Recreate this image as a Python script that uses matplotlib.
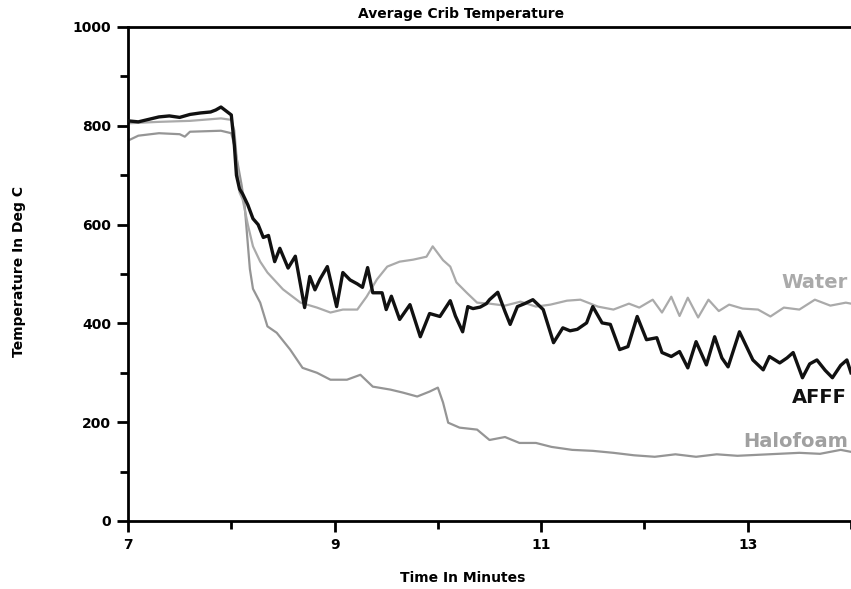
import matplotlib
matplotlib.use("Agg")
import matplotlib.pyplot as plt
from matplotlib.ticker import MultipleLocator

# ---- data ----
afff_t = [7.0, 7.1, 7.2, 7.3, 7.4, 7.5, 7.6, 7.7, 7.8, 7.85, 7.9, 7.95, 8.0, 8.03, 8.05,
          8.08, 8.11, 8.16, 8.21, 8.26, 8.31, 8.36, 8.42, 8.47, 8.55, 8.62, 8.71, 8.76,
          8.81, 8.86, 8.93, 9.02, 9.08, 9.15, 9.22, 9.27, 9.32, 9.37, 9.46, 9.5, 9.55,
          9.63, 9.73, 9.83, 9.92, 10.02, 10.12, 10.17, 10.24, 10.29, 10.34, 10.41, 10.47,
          10.5, 10.58, 10.65, 10.7, 10.77, 10.84, 10.92, 11.02, 11.12, 11.21, 11.28, 11.35,
          11.44, 11.5, 11.59, 11.67, 11.76, 11.84, 11.93, 12.02, 12.12, 12.17, 12.26, 12.34,
          12.42, 12.5, 12.6, 12.68, 12.75, 12.81, 12.92, 13.05, 13.15, 13.21, 13.31, 13.38,
          13.44, 13.53, 13.6, 13.67, 13.75, 13.82, 13.9, 13.96, 14.0]
afff_v = [810, 808, 813, 818, 820, 817, 823, 826, 828, 832, 838, 830, 822, 760, 700,
          672, 662, 640, 612, 600, 574, 578, 525, 552, 512, 536, 432, 495,
          468, 490, 515, 434, 503, 488, 480, 473, 513, 462, 462, 428, 455,
          408, 438, 373, 420, 414, 446, 415, 383, 434, 430, 433, 440,
          448, 463, 424, 398, 434, 440, 448, 428, 361, 391, 385, 388,
          401, 434, 401, 398, 347, 353, 414, 367, 371, 341, 333, 343,
          310, 363, 316, 373, 330, 312, 383, 326, 306, 333, 320, 330,
          341, 290, 318, 326, 305, 290, 315, 326, 300]

water_t = [7.0, 7.3, 7.6, 7.9, 8.0, 8.03, 8.08, 8.11, 8.16, 8.21, 8.28, 8.35, 8.5, 8.67,
           8.83, 8.96, 9.08, 9.22, 9.31, 9.41, 9.51, 9.63, 9.76, 9.89, 9.95, 10.05, 10.12,
           10.18, 10.28, 10.38, 10.5, 10.65, 10.8, 10.95, 11.09, 11.25, 11.38, 11.55, 11.7,
           11.85, 11.95, 12.08, 12.17, 12.26, 12.34, 12.42, 12.52, 12.62, 12.72, 12.82,
           12.95, 13.1, 13.22, 13.35, 13.5, 13.65, 13.8, 13.95, 14.0]
water_v = [805, 808, 810, 815, 812, 790, 665, 651, 600, 556, 525, 503, 469, 442,
           432, 422, 428, 428, 454, 489, 515, 525, 529, 535, 556, 528, 515,
           483, 462, 442, 440, 436, 444, 434, 438, 446, 448, 434, 428,
           440, 432, 448, 422, 454, 415, 452, 412, 448, 425, 438,
           430, 428, 414, 432, 428, 448, 436, 442, 440]

halo_t = [7.0, 7.1, 7.3, 7.5, 7.55, 7.6, 7.9, 8.0, 8.03, 8.1, 8.13, 8.18, 8.21, 8.28,
          8.35, 8.44, 8.57, 8.69, 8.83, 8.96, 9.12, 9.25, 9.37, 9.54, 9.66, 9.8, 9.92,
          10.0, 10.05, 10.1, 10.21, 10.38, 10.5, 10.65, 10.79, 10.95, 11.1, 11.3, 11.5,
          11.7, 11.9, 12.1, 12.3, 12.5, 12.7, 12.9, 13.1, 13.3, 13.5, 13.7, 13.9, 14.0]
halo_v = [770, 780, 785, 783, 778, 788, 790, 785, 760, 680, 637, 510, 470, 442,
          394, 381, 347, 310, 300, 286, 286, 296, 272, 266, 260, 252, 262,
          270, 240, 199, 189, 185, 164, 170, 158, 158, 150, 144, 142,
          138, 133, 130, 135, 130, 135, 132, 134, 136, 138, 136, 144, 140]

x_major = [7, 9, 11, 13]
y_major = [0, 200, 400, 600, 800, 1000]

# ---- figure ----
fig = plt.figure(figsize=(8.51, 5.89), dpi=100)
ax = fig.add_axes([128 / 851, 1 - 521 / 589, 1 - 128 / 851, (521 - 27) / 589])

ax.plot(halo_t, halo_v, color="#959595", lw=1.6, zorder=2)
ax.plot(water_t, water_v, color="#aaaaaa", lw=1.6, zorder=2)
ax.plot(afff_t, afff_v, color="#111111", lw=2.4, zorder=3)

ax.set_xlim(7, 14)
ax.set_ylim(0, 1000)
ax.set_xticks(x_major)
ax.set_yticks(y_major)
ax.xaxis.set_minor_locator(MultipleLocator(1))
ax.yaxis.set_minor_locator(MultipleLocator(100))
ax.tick_params(axis="both", which="major", direction="out", length=8, width=2,
               labelsize=10, pad=4)
ax.tick_params(axis="both", which="minor", direction="out", length=6, width=2)
for lab in ax.get_xticklabels() + ax.get_yticklabels():
    lab.set_fontweight("bold")

ax.spines["right"].set_visible(False)
for s in ["left", "bottom", "top"]:
    ax.spines[s].set_linewidth(2)

ax.text(13.97, 482, "Water", color="#aaaaaa", fontsize=14, fontweight="bold",
        ha="right", va="center")
ax.text(13.96, 251, "AFFF", color="#111111", fontsize=14, fontweight="bold",
        ha="right", va="center")
ax.text(13.97, 160, "Halofoam", color="#a0a0a0", fontsize=14, fontweight="bold",
        ha="right", va="center")

fig.text(461 / 851, 1 - 14 / 589, "Average Crib Temperature", ha="center",
         va="center", fontsize=10, fontweight="bold")
fig.text(463 / 851, 1 - 578 / 589, "Time In Minutes", ha="center", va="center",
         fontsize=10, fontweight="bold")
fig.text(19 / 851, 1 - 272 / 589, "Temperature In Deg C", ha="center", va="center",
         rotation=90, fontsize=10, fontweight="bold")

fig.savefig("out.png", dpi=100)
